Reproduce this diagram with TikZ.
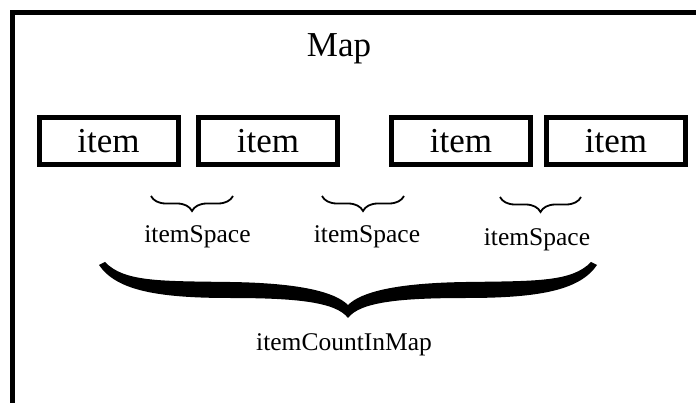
\documentclass[tikz,border=0pt]{standalone}
\usepackage{fontspec}
\setmainfont{Liberation Serif}
\usetikzlibrary{decorations.pathreplacing}

\begin{document}
\begin{tikzpicture}[
    x=1pt, y=-1pt,
    every node/.style={align=center, inner sep=0pt},
    item box/.style={draw, line width=5pt, minimum width=139pt, minimum height=47pt, font=\fontsize{35}{40}\selectfont},
    title text/.style={font=\fontsize{35}{40}\selectfont},
    small text/.style={font=\fontsize{25.5}{28}\selectfont},
    space brace/.style={draw, line width=1.8pt, decorate, decoration={brace, mirror, amplitude=15pt}},
    ]
\clip (0,0) rectangle (696,403);
\fill[white] (0,0) rectangle (696,403);
% map frame, runs off the right and bottom edge
\draw[line width=5pt] (12.5,13) rectangle (720,430);
\node[title text, anchor=base] (Map) at (339,57) {Map};
\node[item box] (item1) at (108.5,141) {item};
\node[item box] (item2) at (268,141) {item};
\node[item box] (item3) at (461,141) {item};
\node[item box] (item4) at (616,141) {item};
% spaces between items
\coordinate (s1L) at (151,196);
\coordinate (s1R) at (233,196);
\coordinate (s2L) at (322,196);
\coordinate (s2R) at (404,196);
\coordinate (s3L) at (500,197);
\coordinate (s3R) at (581,197);
\draw[space brace] (s1L) -- (s1R);
\draw[space brace] (s2L) -- (s2R);
\draw[space brace] (s3L) -- (s3R);
\node[small text, anchor=base] (space1) at (197.5,243) {itemSpace};
\node[small text, anchor=base] (space2) at (367,243) {itemSpace};
\node[small text, anchor=base] (space3) at (537,246) {itemSpace};
% big brace over all items
\fill (105,262)
    .. controls (124,282) and (160,281) .. (230,282)
    .. controls (300,283) and (335,292) .. (348,305)
    .. controls (361,292) and (396,283) .. (466,282)
    .. controls (536,281) and (572,282) .. (591,262)
    -- (597,265)
    .. controls (580,290) and (540,298) .. (466,298)
    .. controls (400,298) and (360,302) .. (348,318)
    .. controls (336,302) and (296,298) .. (230,298)
    .. controls (156,298) and (116,290) .. (99,265)
    -- cycle;
\node[small text, anchor=base] (count) at (344,350) {itemCountInMap};
\end{tikzpicture}
\end{document}
